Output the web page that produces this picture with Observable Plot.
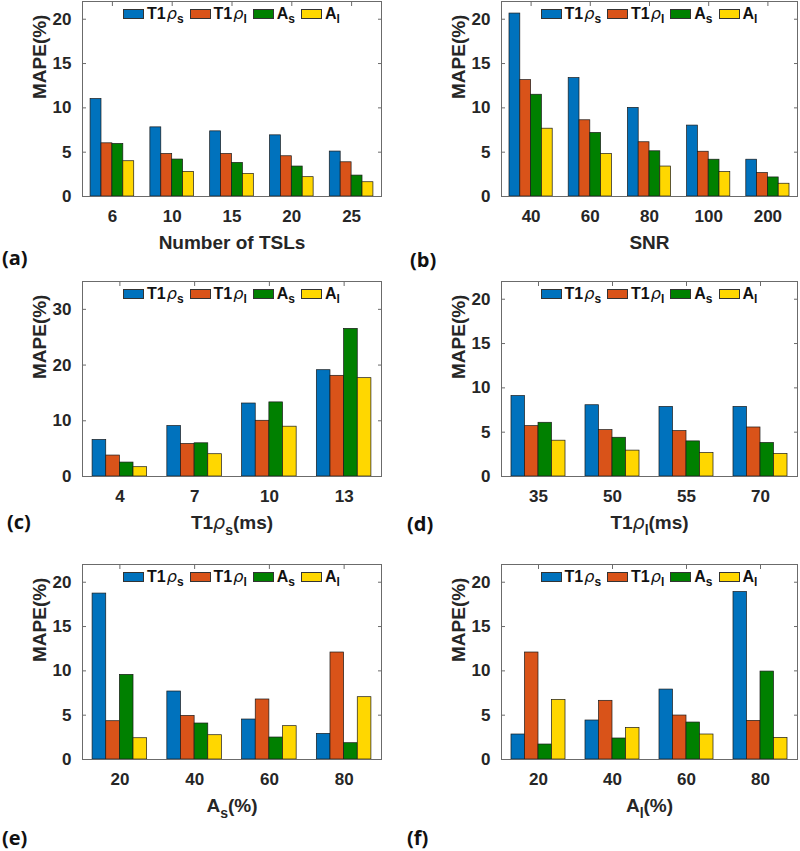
<!DOCTYPE html>
<html><head><meta charset="utf-8">
<script src="https://cdn.jsdelivr.net/npm/d3@7"></script>
<script src="https://cdn.jsdelivr.net/npm/@observablehq/plot@0.6"></script>
<style>
body{margin:0;background:#fff;}
#root{position:relative;width:800px;height:851px;overflow:hidden;font-family:"Liberation Sans",Arial,sans-serif;}
.legend{position:absolute;display:flex;justify-content:center;align-items:center;height:17px;font-family:"Liberation Sans",Arial,sans-serif;font-weight:bold;font-size:16px;color:#111;white-space:nowrap;}
.item{display:flex;align-items:center;margin:0 3px;}
.sw{display:inline-block;width:21px;height:10px;border:1px solid #333;box-sizing:border-box;margin-right:3px;}
.rho{font-family:"DejaVu Sans",sans-serif;font-style:italic;font-weight:normal;font-size:16px;margin-left:1px;}
.legend sub{font-size:12px;vertical-align:-4px;line-height:0;}
.tag{position:absolute;font-family:"Open Sans",sans-serif;font-weight:700;font-size:20px;line-height:20px;color:#111;}
</style>
</head><body><div id="root"></div>
<script>
// ---------- data ----------
const seriesNames = ["T1ρs", "T1ρl", "As", "Al"];
const seriesColors = ["#0072BD", "#D95319", "#008000", "#FFD700"];

const catsA = ["6", "10", "15", "20", "25"];
const aT1s = [11.0, 7.8, 7.35, 6.9, 5.07];
const aT1l = [6.0, 4.8, 4.8, 4.54, 3.86];
const aAs  = [5.93, 4.17, 3.79, 3.38, 2.36];
const aAl  = [3.98, 2.78, 2.55, 2.18, 1.61];

const catsB = ["40", "60", "80", "100", "200"];
const bT1s = [20.64, 13.36, 10.0, 8.0, 4.15];
const bT1l = [13.13, 8.6, 6.12, 5.05, 2.65];
const bAs  = [11.48, 7.17, 5.1, 4.15, 2.15];
const bAl  = [7.65, 4.8, 3.38, 2.77, 1.44];

const catsC = ["4", "7", "10", "13"];
const cT1s = [6.56, 9.06, 13.1, 19.08];
const cT1l = [3.76, 5.84, 10.0, 18.07];
const cAs  = [2.5, 5.96, 13.3, 26.5];
const cAl  = [1.67, 4.0, 8.94, 17.65];

const catsD = ["35", "50", "55", "70"];
const dT1s = [9.08, 8.04, 7.85, 7.85];
const dT1l = [5.68, 5.23, 5.12, 5.53];
const dAs  = [6.06, 4.37, 3.96, 3.78];
const dAl  = [4.04, 2.92, 2.65, 2.54];

const catsE = ["20", "40", "60", "80"];
const eT1s = [18.72, 7.67, 4.51, 2.89];
const eT1l = [4.32, 4.92, 6.77, 12.07];
const eAs  = [9.55, 4.06, 2.48, 1.84];
const eAl  = [2.4, 2.74, 3.76, 7.03];

const catsF = ["20", "40", "60", "80"];
const fT1s = [2.82, 4.4, 7.89, 18.9];
const fT1l = [12.07, 6.62, 4.96, 4.36];
const fAs  = [1.69, 2.37, 4.17, 9.92];
const fAl  = [6.73, 3.57, 2.82, 2.44];

const ticks22 = [0, 5, 10, 15, 20];
const ticks35 = [0, 10, 20, 30];
const yTitle = "MAPE(%)";
const xTitles = ["Number of TSLs", "SNR", "T1ρs(ms)", "T1ρl(ms)", "As(%)", "Al(%)"];
const panelTags = ["(a)", "(b)", "(c)", "(d)", "(e)", "(f)"];

// ---------- layout ----------
const panels = [
  {cats: catsA, vals: [aT1s, aT1l, aAs, aAl], ymax: 22, ticks: ticks22, title: xTitles[0], tag: panelTags[0]},
  {cats: catsB, vals: [bT1s, bT1l, bAs, bAl], ymax: 22, ticks: ticks22, title: xTitles[1], tag: panelTags[1]},
  {cats: catsC, vals: [cT1s, cT1l, cAs, cAl], ymax: 35, ticks: ticks35, title: xTitles[2], tag: panelTags[2], sub: ["T1", "ρ", "s", "(ms)"]},
  {cats: catsD, vals: [dT1s, dT1l, dAs, dAl], ymax: 22, ticks: ticks22, title: xTitles[3], tag: panelTags[3], sub: ["T1", "ρ", "l", "(ms)"]},
  {cats: catsE, vals: [eT1s, eT1l, eAs, eAl], ymax: 22, ticks: ticks22, title: xTitles[4], tag: panelTags[4], sub: ["A", "", "s", "(%)"]},
  {cats: catsF, vals: [fT1s, fT1l, fAs, fAl], ymax: 22, ticks: ticks22, title: xTitles[5], tag: panelTags[5], sub: ["A", "", "l", "(%)"]}
];
const rowTop = [1, 281, 564], rowBottom = [196, 476, 759];
const colLeft = [82, 501], colRight = [381, 797];
const tagPos = [[2, 258], [410, 260], [7, 522], [407, 524], [2, 838], [407, 838]];
const legendParts = [["T1", "ρ", "s"], ["T1", "ρ", "l"], ["A", "", "s"], ["A", "", "l"]];
const frameColor = "#6b6b6b";
const textColor = "#262626";
const groupFrac = 0.73;
const fontFam = "'Liberation Sans', Arial, sans-serif";

const root = document.getElementById("root");

panels.forEach((p, k) => {
  const row = Math.floor(k / 2), col = k % 2;
  const svgLeft = col * 400, width = 400;
  const plotTop = rowTop[row], plotBottom = rowBottom[row];
  const svgTop = Math.max(0, plotTop - 10);
  const marginTop = plotTop - svgTop;
  const marginBottom = 70;
  const height = marginTop + (plotBottom - plotTop) + marginBottom;
  const marginLeft = colLeft[col] - svgLeft;
  const marginRight = svgLeft + width - colRight[col];
  const innerW = width - marginLeft - marginRight;
  const step = innerW / p.cats.length;
  const barW = step * groupFrac / 4;

  const marks = [
    Plot.axisX({anchor: "top", tickSize: -4, fill: "none", stroke: frameColor, label: null}),
    Plot.axisY(p.ticks, {anchor: "left", tickSize: -4, fill: "none", stroke: frameColor, label: null}),
    Plot.axisY(p.ticks, {anchor: "right", tickSize: -4, fill: "none", stroke: frameColor, label: null})
  ];
  seriesNames.forEach((s, i) => {
    const rows = p.cats.map((c, j) => ({cat: c, value: p.vals[i][j], series: s}));
    const off = step * (1 - groupFrac) / 2 + i * barW;
    marks.push(Plot.barY(rows, {
      x: "cat", y: "value", fill: seriesColors[i], stroke: "#1a1a1a", strokeWidth: 0.7,
      insetLeft: off, insetRight: step - off - barW
    }));
  });
  marks.push(Plot.frame({stroke: frameColor, strokeWidth: 1}));
  marks.push(Plot.axisX({anchor: "bottom", tickSize: 0, tickPadding: 13, label: null, fontSize: 17, fontWeight: "bold", fontFamily: fontFam}));
  marks.push(Plot.axisY(p.ticks, {anchor: "left", tickSize: 0, tickPadding: 11, label: null, fontSize: 17, fontWeight: "bold", fontFamily: fontFam}));
  marks.push(Plot.text([p.title], {frameAnchor: "bottom", dy: 52, lineAnchor: "bottom", fontSize: 19, fontWeight: "bold", fontFamily: fontFam, fill: textColor}));
  marks.push(Plot.text([yTitle], {frameAnchor: "left", dx: -50, rotate: -90, lineAnchor: "top", fontSize: 19, fontWeight: "bold", fontFamily: fontFam, fill: textColor}));

  const svg = Plot.plot({
    width, height, marginTop, marginBottom, marginLeft, marginRight,
    style: {fontFamily: fontFam, fontWeight: "bold", fontSize: "17px", color: textColor, background: "transparent", overflow: "visible"},
    x: {type: "band", domain: p.cats, padding: 0, round: false},
    y: {domain: [0, p.ymax], round: false},
    marks
  });
  svg.style.position = "absolute";
  svg.style.left = svgLeft + "px";
  svg.style.top = svgTop + "px";
  root.appendChild(svg);

  // subscripted axis title
  if (p.sub) {
    d3.select(svg).selectAll("text").filter(function () { return this.textContent === p.title; }).each(function () {
      const t = d3.select(this);
      t.text(null);
      t.append("tspan").text(p.sub[0]);
      if (p.sub[1]) t.append("tspan").attr("font-style", "italic").attr("font-weight", "normal").attr("font-family", "DejaVu Sans").text(p.sub[1]);
      t.append("tspan").attr("font-size", 14).attr("dy", 6).text(p.sub[2]);
      t.append("tspan").attr("dy", -6).text(p.sub[3]);
    });
  }

  // legend
  const lg = document.createElement("div");
  lg.className = "legend";
  lg.style.left = colLeft[col] + "px";
  lg.style.width = (colRight[col] - colLeft[col]) + "px";
  lg.style.top = (plotTop + 4) + "px";
  legendParts.forEach((parts, i) => {
    const it = document.createElement("span");
    it.className = "item";
    it.innerHTML = `<span class="sw" style="background:${seriesColors[i]}"></span><span>${parts[0]}${parts[1] ? `<span class="rho">${parts[1]}</span>` : ""}<sub>${parts[2]}</sub></span>`;
    lg.appendChild(it);
  });
  root.appendChild(lg);

  // panel tag
  const tg = document.createElement("div");
  tg.className = "tag";
  tg.textContent = p.tag;
  tg.style.left = tagPos[k][0] + "px";
  tg.style.top = (tagPos[k][1] - 10) + "px";
  root.appendChild(tg);
});
</script>
</body></html>
